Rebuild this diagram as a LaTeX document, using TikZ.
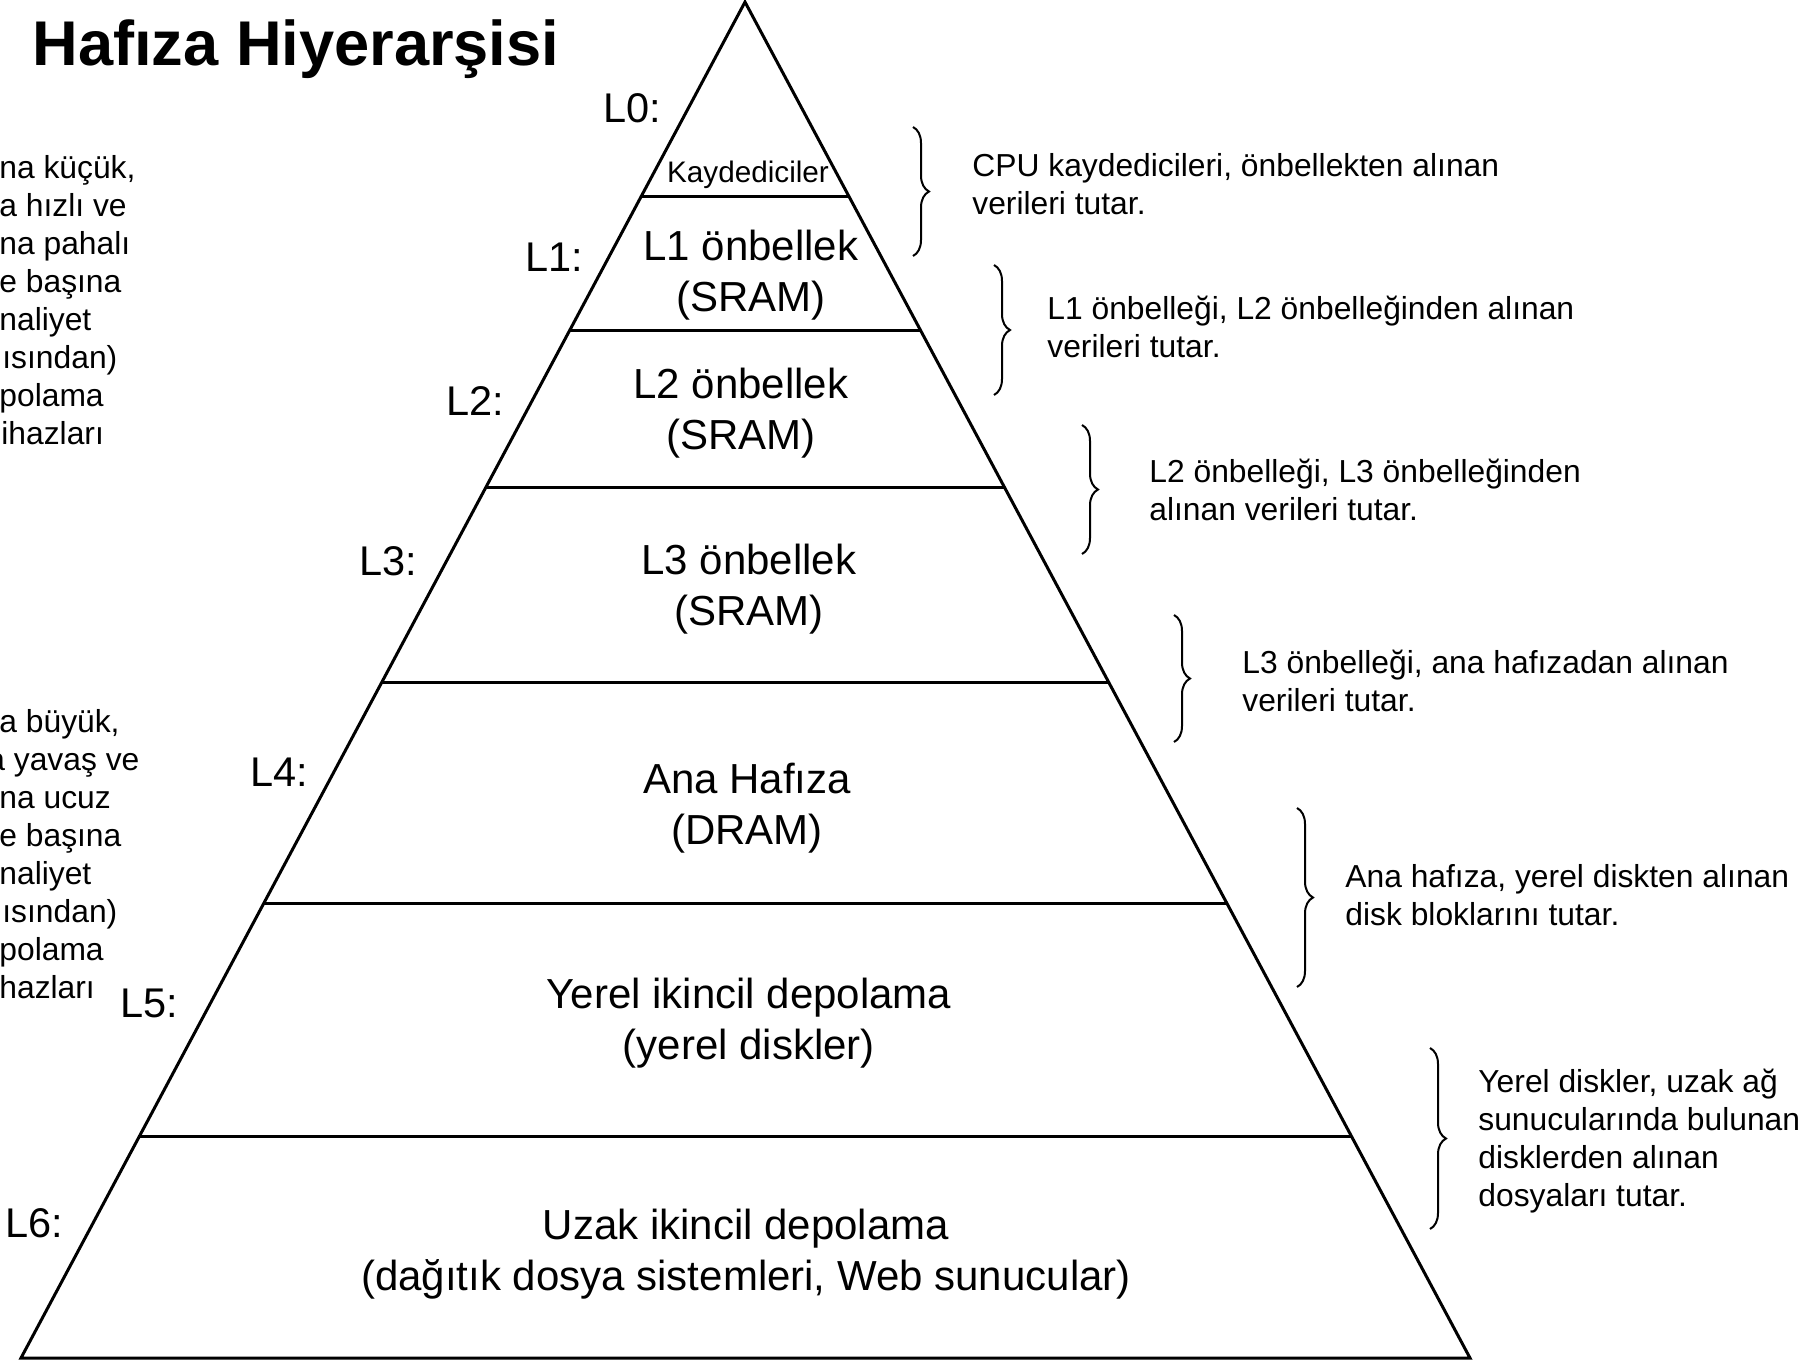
\documentclass[tikz,border=0pt]{standalone}
\usepackage{fontspec}
\setmainfont{Liberation Sans}
\usetikzlibrary{calc,decorations.pathreplacing}
\begin{document}
\begin{tikzpicture}[x=0.5pt,y=-0.5pt,
  edge/.style={line width=1.5pt},
  bracestyle/.style={line width=1pt, decorate, decoration={brace,amplitude=8pt}},
  note/.style={font=\fontsize{15.9pt}{19pt}\selectfont, align=left, anchor=base west, inner sep=0pt},
  lvl/.style={font=\fontsize{20.75pt}{25pt}\selectfont, anchor=base west, inner sep=0pt},
  tier/.style={font=\fontsize{21pt}{25.5pt}\selectfont, align=center, anchor=base, inner sep=0pt},
  smalltier/.style={font=\fontsize{14.85pt}{18pt}\selectfont, anchor=base, inner sep=0pt},
  titlestyle/.style={font=\bfseries\fontsize{31.6pt}{36pt}\selectfont, anchor=base west, inner sep=0pt}
]
\useasboundingbox (0,0) rectangle (1810,1361);

% title
\node[titlestyle] (title) at (32,65) {Hafıza Hiyerarşisi};

% pyramid
\coordinate (A) at (745,2);
\coordinate (BL) at (21,1358);
\coordinate (BR) at (1470,1358);
\draw[edge] (A) -- (BL) -- (BR) -- cycle;
\foreach \t/\n in {0.1438/s0,0.2419/s1,0.3577/s2,0.5022/s3,0.6645/s4,0.8363/s5}{
  \draw[edge] ($(A)!\t!(BL)$) coordinate (\n l) -- ($(A)!\t!(BR)$) coordinate (\n r);
}

% tier texts (anchor = baseline of the last line)
\node[smalltier] (t0) at (748,182) {Kaydediciler};
\node[tier] (t1) at (751,311) {L1 önbellek\\(SRAM)};
\node[tier] (t2) at (741,449) {L2 önbellek\\(SRAM)};
\node[tier] (t3) at (749,625) {L3 önbellek\\(SRAM)};
\node[tier] (t4) at (747,844) {Ana Hafıza\\(DRAM)};
\node[tier] (t5) at (749,1059) {Yerel ikincil depolama\\(yerel diskler)};
\node[tier] (t6) at (746,1290) {Uzak ikincil depolama\\(dağıtık dosya sistemleri, Web sunucular)};

% level labels
\node[lvl] (l0) at (603,122) {L0:};
\node[lvl] (l1) at (525,271) {L1:};
\node[lvl] (l2) at (446,415) {L2:};
\node[lvl] (l3) at (359,575) {L3:};
\node[lvl] (l4) at (250,786) {L4:};
\node[lvl] (l5) at (120,1017) {L5:};
\node[lvl] (l6) at (5,1237) {L6:};

% braces
\coordinate (b1t) at (913,127);  \coordinate (b1b) at (913,256);
\coordinate (b2t) at (994,265);  \coordinate (b2b) at (994,395);
\coordinate (b3t) at (1082,425); \coordinate (b3b) at (1082,554);
\coordinate (b4t) at (1174,615); \coordinate (b4b) at (1174,742);
\coordinate (b5t) at (1297,808); \coordinate (b5b) at (1297,987);
\coordinate (b6t) at (1430,1048); \coordinate (b6b) at (1430,1229);
\foreach \i in {1,...,6}{ \draw[bracestyle] (b\i t) -- (b\i b); }

% right notes (anchor = baseline of the last line)
\node[note] (n1) at (972,214) {CPU kaydedicileri, önbellekten alınan\\verileri tutar.};
\node[note] (n2) at (1047,357) {L1 önbelleği, L2 önbelleğinden alınan\\verileri tutar.};
\node[note] (n3) at (1149,520) {L2 önbelleği, L3 önbelleğinden\\alınan verileri tutar.};
\node[note] (n4) at (1242,711) {L3 önbelleği, ana hafızadan alınan\\verileri tutar.};
\node[note] (n5) at (1345,925) {Ana hafıza, yerel diskten alınan\\disk bloklarını tutar.};
\node[note] (n6) at (1478,1206) {Yerel diskler, uzak ağ\\sunucularında bulunan\\disklerden alınan\\dosyaları tutar.};

% left notes (cut at the page edge)
\begin{scope}
\clip (0,0) rectangle (1810,1361);
\node[note] (left1) at (-1,444) {na küçük,\\a hızlı ve\\na pahalı\\e başına\\naliyet\\\hspace*{1.5pt}ısından)\\polama\\\hspace*{1pt}ihazları};
\node[note] (left2) at (-1,998) {a büyük,\\\hspace*{-6pt}a yavaş ve\\na ucuz\\e başına\\naliyet\\\hspace*{1.5pt}ısından)\\polama\\hazları};
\end{scope}
\end{tikzpicture}
\end{document}
